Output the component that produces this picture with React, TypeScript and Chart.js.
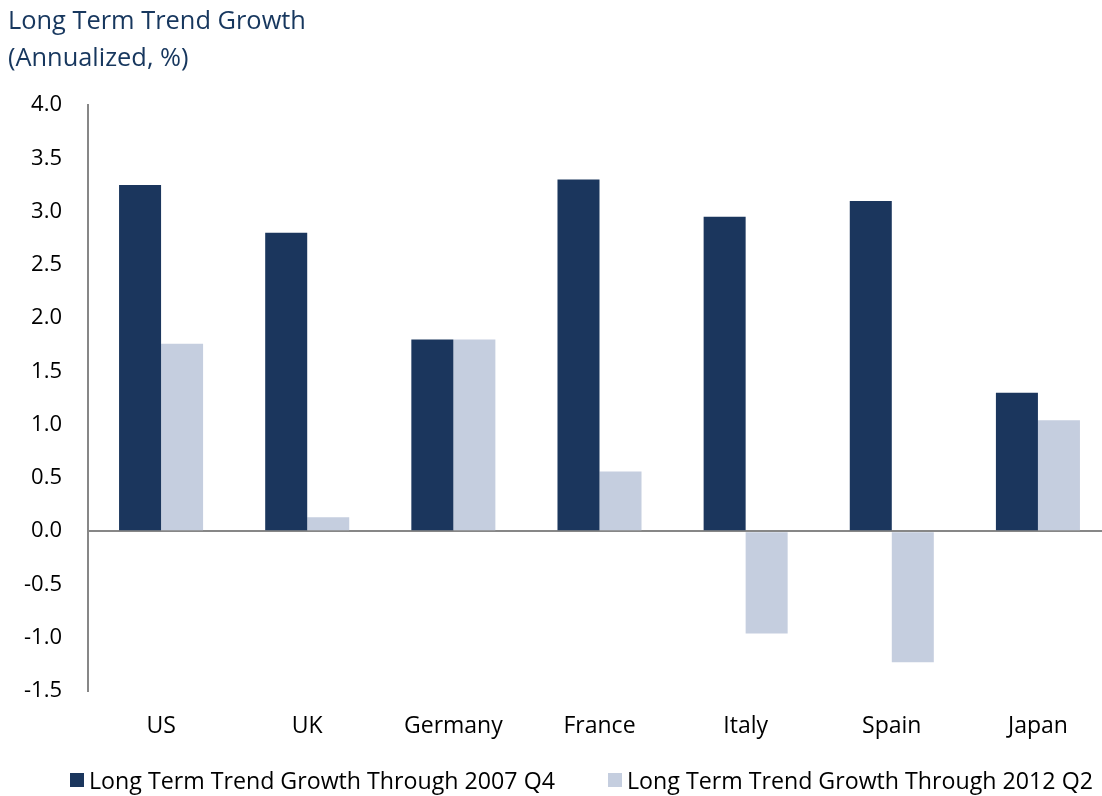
import React, { useEffect, useRef } from "react";
import { Chart, registerables } from "chart.js";

Chart.register(...registerables);

const categories = ["US", "UK", "Germany", "France", "Italy", "Spain", "Japan"];
const through2007Q4 = [3.25, 2.8, 1.8, 3.3, 2.95, 3.1, 1.3];
const through2012Q2 = [1.76, 0.13, 1.8, 0.56, -0.96, -1.23, 1.04];
const seriesNames = [
  "Long Term Trend Growth Through 2007 Q4",
  "Long Term Trend Growth Through 2012 Q2",
];
const titleLines = ["Long Term Trend Growth", "(Annualized, %)"];
const yMin = -1.5;
const yMax = 4.0;
const yStep = 0.5;

const DARK = "#1B365D";
const LIGHT = "#C5CEDF";
const AXIS = "#878787";
const FONT = "'Open Sans', sans-serif";

export default function App() {
  const canvasRef = useRef<HTMLCanvasElement | null>(null);

  useEffect(() => {
    const canvas = canvasRef.current;
    if (!canvas) return;
    const chart = new Chart(canvas, {
      type: "bar",
      data: {
        labels: categories,
        datasets: [
          { label: seriesNames[0], data: through2007Q4, backgroundColor: DARK, borderWidth: 0 },
          { label: seriesNames[1], data: through2012Q2, backgroundColor: LIGHT, borderWidth: 0 },
        ],
      },
      options: {
        animation: false,
        responsive: true,
        maintainAspectRatio: false,
        layout: { padding: { top: 105, right: 9, bottom: 45, left: 0 } },
        datasets: { bar: { categoryPercentage: 0.575, barPercentage: 1 } },
        plugins: {
          legend: { display: false },
          title: { display: false },
          tooltip: { enabled: false },
        },
        scales: {
          x: {
            grid: { display: false, drawTicks: false },
            border: { display: false },
            ticks: { color: "#000", font: { family: FONT, size: 23 }, padding: 22 },
            afterFit: (s: any) => { s.height = 60; },
          },
          y: {
            min: yMin,
            max: yMax,
            grid: {
              drawTicks: false,
              lineWidth: 2,
              color: (ctx: any) => (ctx.tick && ctx.tick.value === 0 ? AXIS : "rgba(0,0,0,0)"),
            },
            border: { display: true, color: AXIS, width: 2 },
            ticks: {
              stepSize: yStep,
              color: "#000",
              font: { family: FONT, size: 22 },
              padding: 26,
              callback: (v: any) => Number(v).toFixed(1),
            },
            afterFit: (s: any) => { s.width = 88; },
          },
        },
      },
    });
    return () => chart.destroy();
  }, []);

  const legendItem = (left: number, color: string, text: string) => (
    <div
      style={{
        position: "absolute",
        left,
        top: 766,
        height: 28,
        display: "flex",
        alignItems: "center",
        whiteSpace: "nowrap",
        fontFamily: FONT,
        fontSize: 23.2,
        color: "#000",
      }}
    >
      <span style={{ display: "inline-block", width: 14, height: 14, background: color, marginRight: 5 }} />
      <span>{text}</span>
    </div>
  );

  return (
    <div style={{ position: "fixed", left: 0, top: 0, width: 1120, height: 796, background: "#fff" }}>
      <canvas ref={canvasRef} />
      <div
        style={{
          position: "absolute",
          left: 8,
          top: 1,
          fontFamily: FONT,
          fontSize: 25.4,
          lineHeight: "37px",
          color: "#17375E",
          whiteSpace: "nowrap",
        }}
      >
        {titleLines.map((t) => (
          <div key={t}>{t}</div>
        ))}
      </div>
      {legendItem(70, DARK, seriesNames[0])}
      {legendItem(608, LIGHT, seriesNames[1])}
    </div>
  );
}
